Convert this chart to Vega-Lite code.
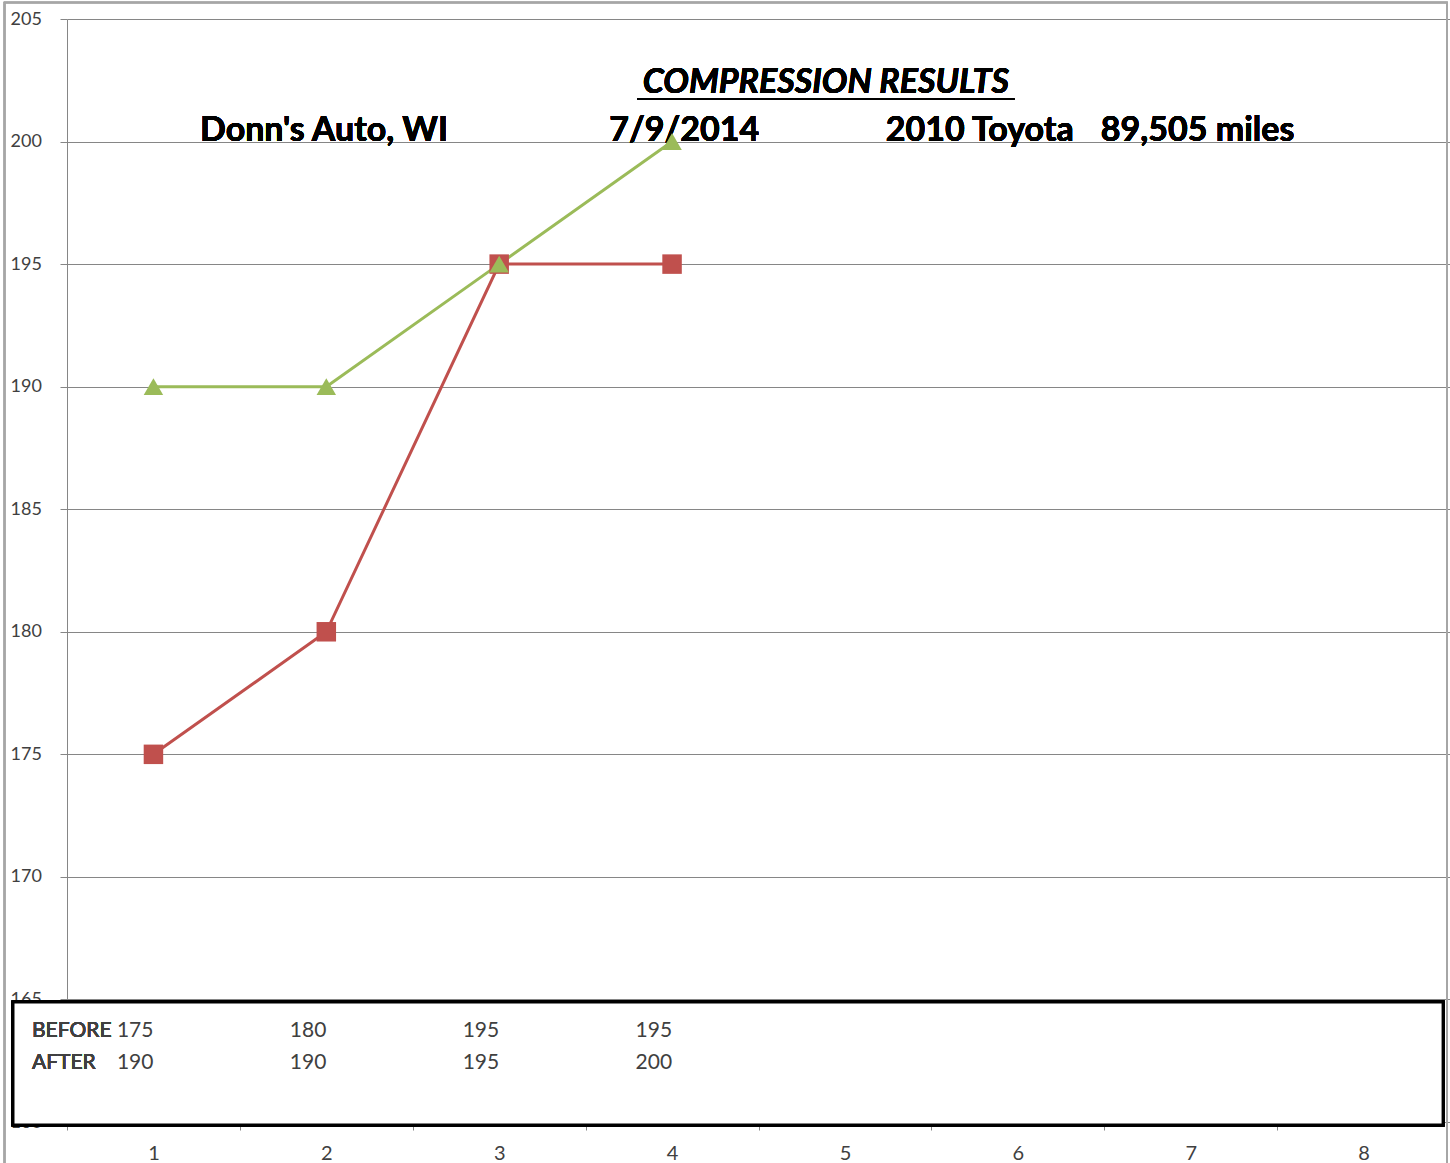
{
  "$schema": "https://vega.github.io/schema/vega-lite/v6.json",
  "autosize": {"type": "none"},
  "width": 1383,
  "height": 1103,
  "padding": {"left": 67, "top": 19, "right": 0, "bottom": 41},
  "background": "white",
  "config": {"view": {"stroke": null}, "font": "Lato", "text": {"font": "Lato"}},
  "data": {"values": [
    {"cylinder": 1, "test": "BEFORE", "psi": 175},
    {"cylinder": 2, "test": "BEFORE", "psi": 180},
    {"cylinder": 3, "test": "BEFORE", "psi": 195},
    {"cylinder": 4, "test": "BEFORE", "psi": 195},
    {"cylinder": 1, "test": "AFTER", "psi": 190},
    {"cylinder": 2, "test": "AFTER", "psi": 190},
    {"cylinder": 3, "test": "AFTER", "psi": 195},
    {"cylinder": 4, "test": "AFTER", "psi": 200}
  ]},
  "layer": [
    {
      "mark": {"type": "rect", "fillOpacity": 0, "stroke": "#A6A6A6", "strokeWidth": 1.5},
      "encoding": {
        "x": {"datum": 0.1385},
        "x2": {"datum": 8.4826},
        "y": {"datum": 205.67},
        "y2": {"datum": 158.2}
      }
    },
    {
      "mark": {"type": "text", "font": "Lato", "fontSize": 34, "fontWeight": "bold", "color": "black", "align": "center", "baseline": "alphabetic"},
      "encoding": {
        "x": {"datum": 1.987},
        "y": {"datum": 200.02},
        "text": {"value": "Donn's Auto, WI"}
      }
    },
    {
      "mark": {"type": "text", "font": "Lato", "fontSize": 34, "fontWeight": "bold", "color": "black", "align": "center", "baseline": "alphabetic"},
      "encoding": {
        "x": {"datum": 4.07},
        "y": {"datum": 200.02},
        "text": {"value": "7/9/2014"}
      }
    },
    {
      "mark": {"type": "text", "font": "Lato", "fontSize": 34, "fontWeight": "bold", "color": "black", "align": "center", "baseline": "alphabetic"},
      "encoding": {
        "x": {"datum": 5.78},
        "y": {"datum": 200.02},
        "text": {"value": "2010 Toyota"}
      }
    },
    {
      "mark": {"type": "text", "font": "Lato", "fontSize": 34, "fontWeight": "bold", "color": "black", "align": "center", "baseline": "alphabetic"},
      "encoding": {
        "x": {"datum": 7.04},
        "y": {"datum": 200.02},
        "text": {"value": "89,505 miles"}
      }
    },
    {
      "mark": {"type": "text", "font": "Lato", "fontSize": 34, "fontWeight": "bold", "fontStyle": "italic", "color": "black", "align": "center", "baseline": "alphabetic"},
      "encoding": {
        "x": {"datum": 4.89},
        "y": {"datum": 201.98},
        "text": {"value": "COMPRESSION RESULTS"}
      }
    },
    {
      "mark": {"type": "rule", "color": "black", "strokeWidth": 2},
      "encoding": {
        "x": {"datum": 3.8},
        "x2": {"datum": 5.98},
        "y": {"datum": 201.74}
      }
    },
    {
      "mark": {"type": "line", "strokeWidth": 3},
      "encoding": {
        "x": {
          "field": "cylinder", "type": "quantitative",
          "scale": {"domain": [0.5, 8.5], "nice": false, "zero": false},
          "axis": {
            "title": null,
            "values": [0.5, 1, 1.5, 2, 2.5, 3, 3.5, 4, 4.5, 5, 5.5, 6, 6.5, 7, 7.5, 8, 8.5],
            "grid": false,
            "labelExpr": "datum.value % 1 == 0 ? format(datum.value, 'd') : ''",
            "tickOpacity": {"condition": {"test": "datum.value % 1 != 0", "value": 1}, "value": 0},
            "tickSize": 8,
            "tickColor": "#868686",
            "domainColor": "#868686",
            "labelFont": "Lato",
            "labelFontSize": 20,
            "labelColor": "#404040",
            "labelPadding": 13,
            "labelFlush": false,
            "labelOverlap": false,
            "labelBound": false
          }
        },
        "y": {
          "field": "psi", "type": "quantitative",
          "scale": {"domain": [160, 205], "nice": false, "zero": false},
          "axis": {
            "title": null,
            "values": [160, 165, 170, 175, 180, 185, 190, 195, 200, 205],
            "grid": true,
            "gridColor": "#868686",
            "gridWidth": 1,
            "tickSize": 7,
            "tickColor": "#868686",
            "domainColor": "#868686",
            "labelAlign": "left",
            "labelPadding": 50,
            "labelFont": "Lato",
            "labelFontSize": 18,
            "labelColor": "#404040",
            "labelFlush": false,
            "labelOverlap": false,
            "labelBound": false
          }
        },
        "color": {
          "field": "test", "type": "nominal",
          "scale": {"domain": ["BEFORE", "AFTER"], "range": ["#C0504D", "#9BBB59"]},
          "legend": null
        }
      }
    },
    {
      "mark": {"type": "point", "filled": true, "opacity": 1, "size": 380},
      "encoding": {
        "x": {"field": "cylinder", "type": "quantitative"},
        "y": {"field": "psi", "type": "quantitative"},
        "color": {"field": "test", "type": "nominal", "legend": null},
        "shape": {
          "field": "test", "type": "nominal",
          "scale": {"domain": ["BEFORE", "AFTER"], "range": ["square", "triangle-up"]},
          "legend": null
        }
      }
    },
    {
      "mark": {"type": "rect", "fill": "white", "stroke": "black", "strokeWidth": 3},
      "encoding": {
        "x": {"datum": 0.1876},
        "x2": {"datum": 8.46},
        "y": {"datum": 164.9},
        "y2": {"datum": 159.88}
      }
    },
    {
      "mark": {"type": "text", "font": "Lato", "fontSize": 21, "fontWeight": "normal", "color": "#404040", "align": "left", "baseline": "alphabetic"},
      "encoding": {
        "x": {"datum": 0.2975},
        "y": {"datum": 163.47},
        "text": {"value": "BEFORE"}
      }
    },
    {
      "mark": {"type": "text", "font": "Lato", "fontSize": 21, "fontWeight": "normal", "color": "#404040", "align": "left", "baseline": "alphabetic"},
      "encoding": {
        "x": {"datum": 0.2975},
        "y": {"datum": 162.17},
        "text": {"value": "AFTER"}
      }
    },
    {
      "transform": [{"filter": "datum.test == 'BEFORE'"}],
      "mark": {"type": "text", "font": "Lato", "fontSize": 21, "fontWeight": "normal", "color": "#404040", "align": "right", "baseline": "alphabetic"},
      "encoding": {
        "x": {"field": "cylinder", "type": "quantitative"},
        "y": {"datum": 163.47},
        "text": {"field": "psi", "type": "quantitative"}
      }
    },
    {
      "transform": [{"filter": "datum.test == 'AFTER'"}],
      "mark": {"type": "text", "font": "Lato", "fontSize": 21, "fontWeight": "normal", "color": "#404040", "align": "right", "baseline": "alphabetic"},
      "encoding": {
        "x": {"field": "cylinder", "type": "quantitative"},
        "y": {"datum": 162.17},
        "text": {"field": "psi", "type": "quantitative"}
      }
    }
  ]
}
